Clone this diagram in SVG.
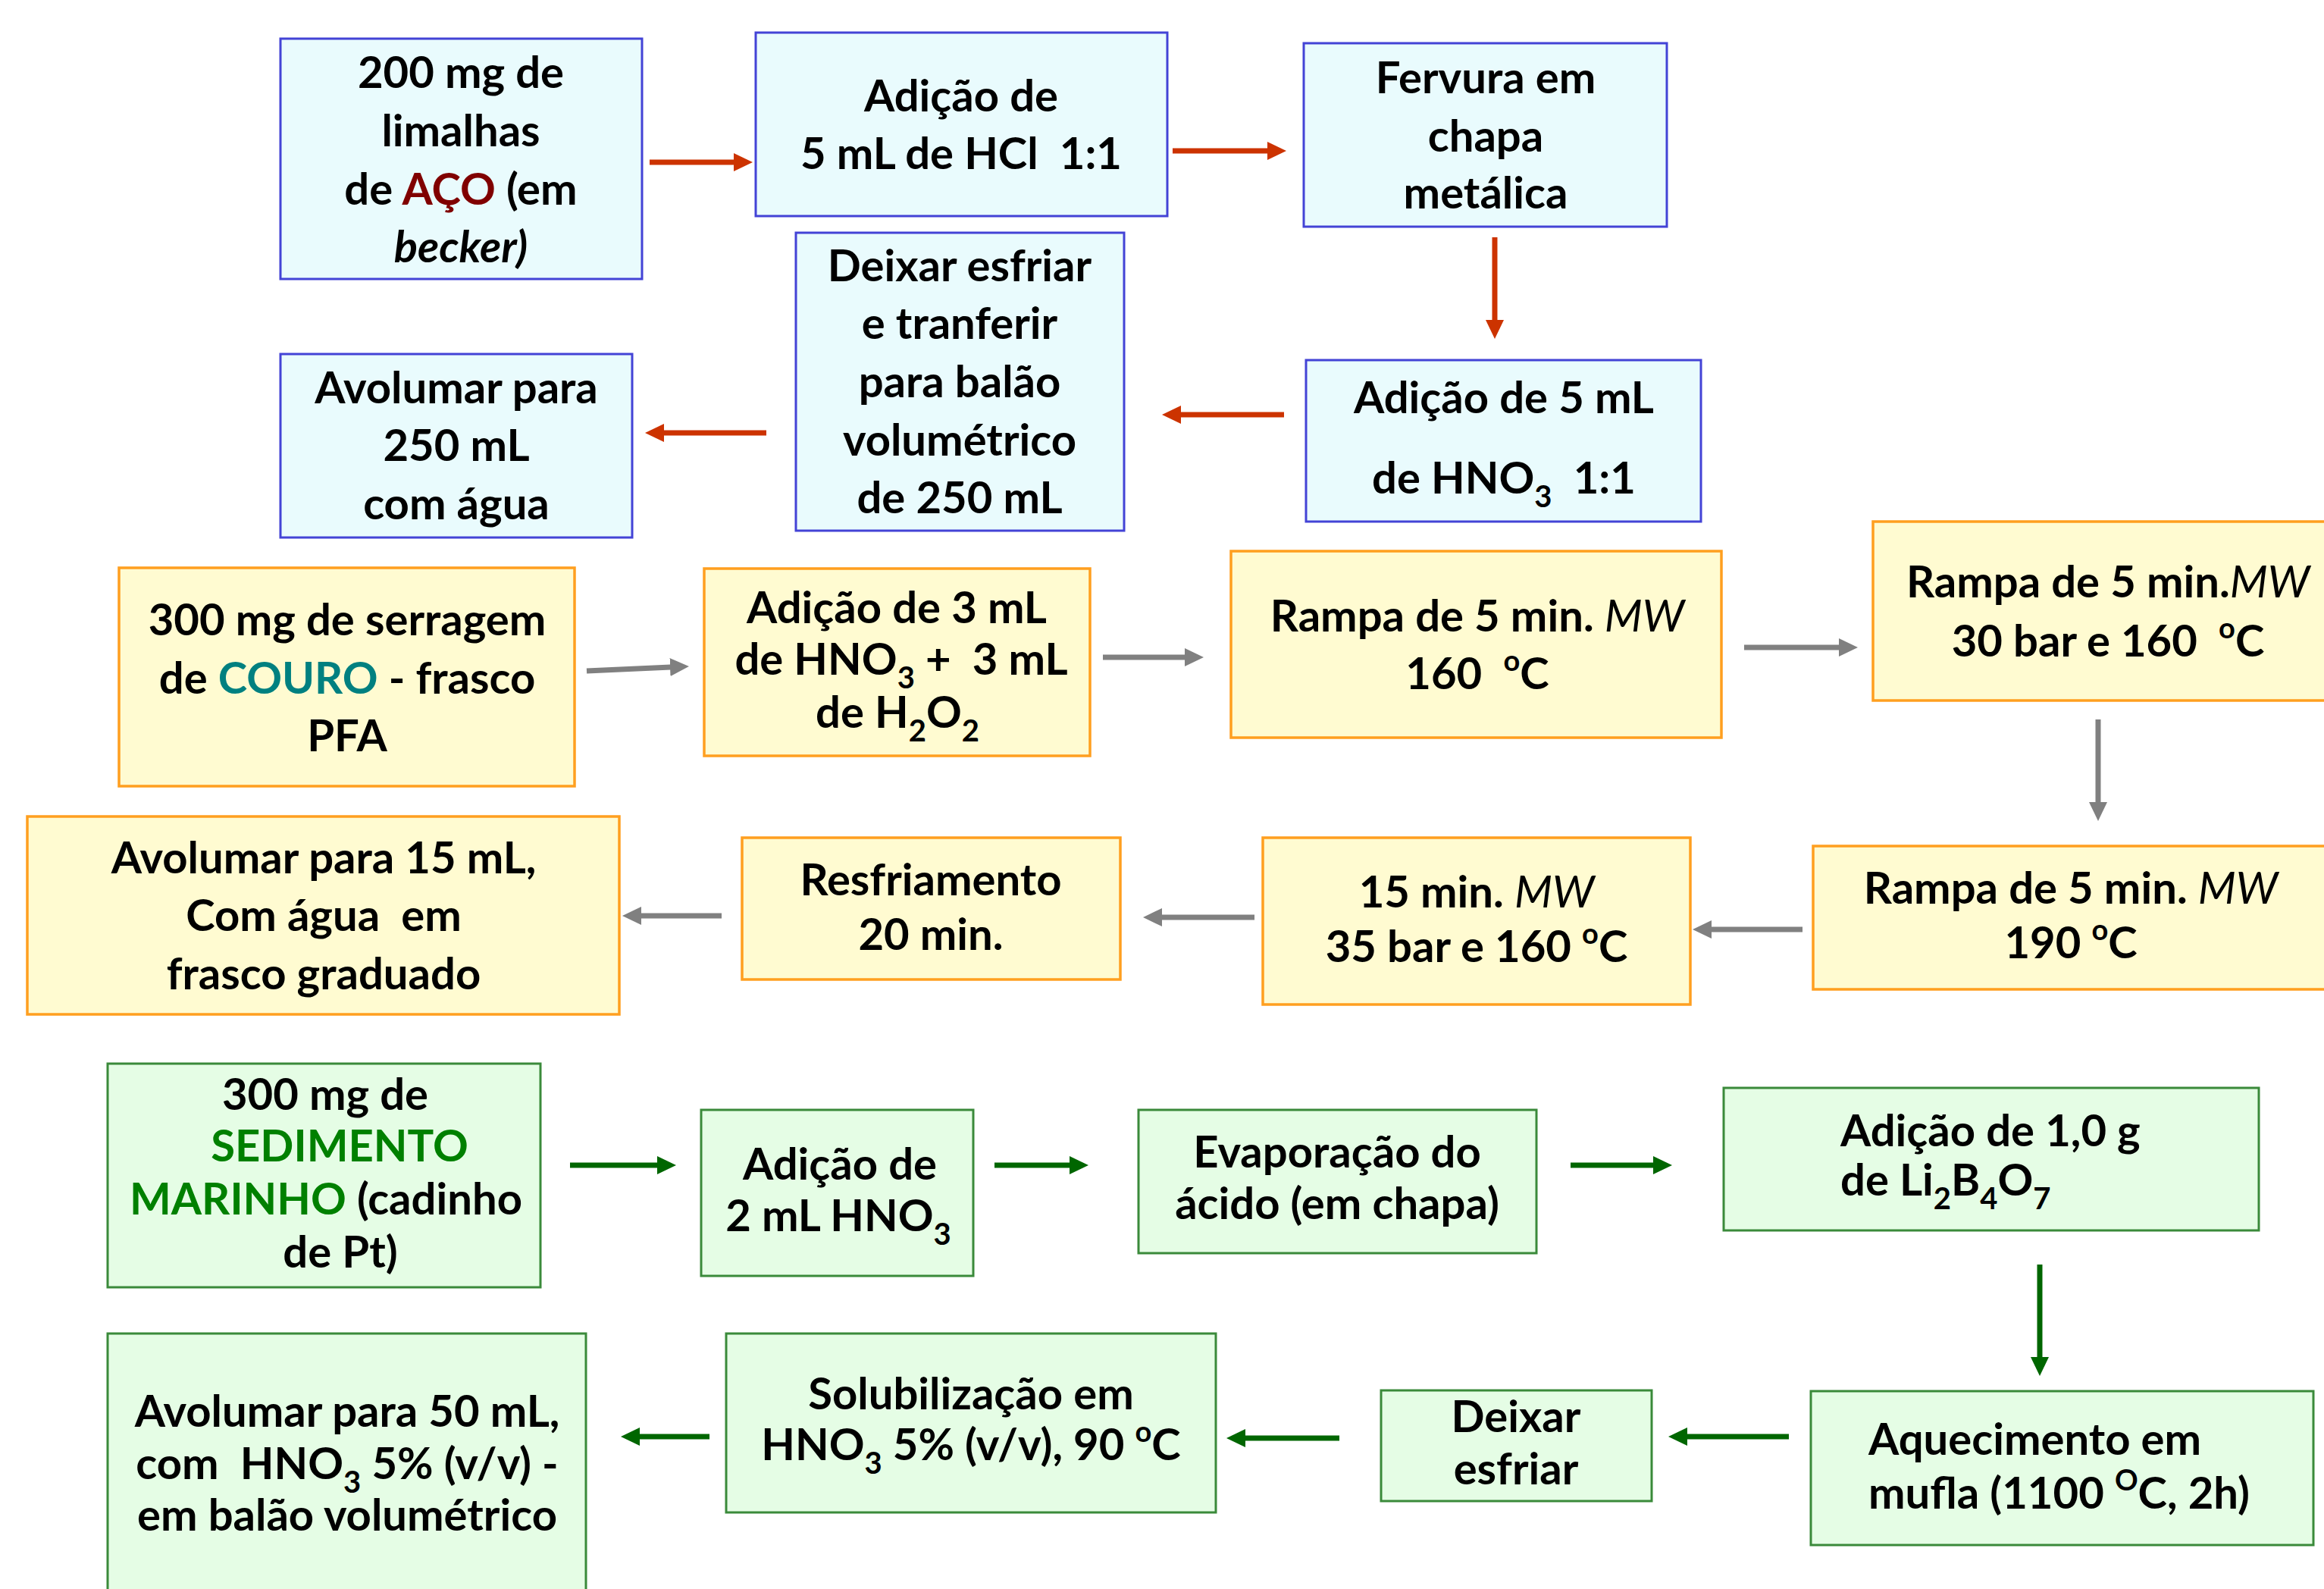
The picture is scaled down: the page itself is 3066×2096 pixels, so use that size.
<svg xmlns="http://www.w3.org/2000/svg" width="3066" height="2096" viewBox="0 0 3066 2096">
<style>
  .bx-b{fill:#E9FBFD;stroke:#4343D6;stroke-width:3}
  .bx-y{fill:#FFFBD1;stroke:#FF9F1F;stroke-width:3.5}
  .bx-g{fill:#E5FDE5;stroke:#3A8A3A;stroke-width:3}
  text{font-family:Lato,"Noto Sans","Liberation Sans",sans-serif;font-weight:700;font-size:58px;fill:#000;text-anchor:middle}
  text.l{text-anchor:start}
  .it{font-style:italic}
  .itn{font-style:italic;font-weight:400}
  .sub{font-size:40px}
  .sup{font-size:38px}
  .red{fill:#800000}
  .teal{fill:#008080}
  .grn{fill:#008000}
  .ar-r{stroke:#CC3300;stroke-width:7;fill:none}
  .ar-k{stroke:#808080;stroke-width:7;fill:none}
  .ar-g{stroke:#006600;stroke-width:7;fill:none}
</style>
<defs>
  <marker id="hr" markerUnits="userSpaceOnUse" markerWidth="26" markerHeight="26" refX="1" refY="13" orient="auto"><path d="M0,1 L25,13 L0,25 Z" fill="#CC3300"/></marker>
  <marker id="hk" markerUnits="userSpaceOnUse" markerWidth="26" markerHeight="26" refX="1" refY="13" orient="auto"><path d="M0,1 L25,13 L0,25 Z" fill="#808080"/></marker>
  <marker id="hg" markerUnits="userSpaceOnUse" markerWidth="26" markerHeight="26" refX="1" refY="13" orient="auto"><path d="M0,1 L25,13 L0,25 Z" fill="#006600"/></marker>
</defs>

<g id="connectors">
  <line class="ar-r" x1="857" y1="214" x2="969" y2="214" marker-end="url(#hr)"/>
  <line class="ar-r" x1="1547" y1="199" x2="1673" y2="199" marker-end="url(#hr)"/>
  <line class="ar-r" x1="1972" y1="313" x2="1972" y2="423" marker-end="url(#hr)"/>
  <line class="ar-r" x1="1694" y1="547" x2="1557" y2="547" marker-end="url(#hr)"/>
  <line class="ar-r" x1="1011" y1="571" x2="875" y2="571" marker-end="url(#hr)"/>

  <line class="ar-k" x1="774" y1="885" x2="885" y2="880" marker-end="url(#hk)"/>
  <line class="ar-k" x1="1455" y1="867" x2="1564" y2="867" marker-end="url(#hk)"/>
  <line class="ar-k" x1="2301" y1="854" x2="2427" y2="854" marker-end="url(#hk)"/>
  <line class="ar-k" x1="2768" y1="949" x2="2768" y2="1059" marker-end="url(#hk)"/>
  <line class="ar-k" x1="2378" y1="1226" x2="2257" y2="1226" marker-end="url(#hk)"/>
  <line class="ar-k" x1="1655" y1="1210" x2="1532" y2="1210" marker-end="url(#hk)"/>
  <line class="ar-k" x1="952" y1="1208" x2="845" y2="1208" marker-end="url(#hk)"/>

  <line class="ar-g" x1="752" y1="1537" x2="868" y2="1537" marker-end="url(#hg)"/>
  <line class="ar-g" x1="1312" y1="1537" x2="1412" y2="1537" marker-end="url(#hg)"/>
  <line class="ar-g" x1="2072" y1="1537" x2="2182" y2="1537" marker-end="url(#hg)"/>
  <line class="ar-g" x1="2691" y1="1668" x2="2691" y2="1791" marker-end="url(#hg)"/>
  <line class="ar-g" x1="2360" y1="1895" x2="2225" y2="1895" marker-end="url(#hg)"/>
  <line class="ar-g" x1="1767" y1="1897" x2="1642" y2="1897" marker-end="url(#hg)"/>
  <line class="ar-g" x1="936" y1="1895" x2="843" y2="1895" marker-end="url(#hg)"/>
</g>

<!-- Blue (steel) flow -->
<g id="b1">
  <rect class="bx-b" x="370" y="51" width="477" height="317"/>
  <text x="608" y="116">200 mg de</text>
  <text x="608" y="193">limalhas</text>
  <text x="608" y="270">de <tspan class="red">AÇO</tspan> (em</text>
  <text x="608" y="346" class="it">becker)</text>
</g>
<g id="b2">
  <rect class="bx-b" x="997" y="43" width="543" height="242"/>
  <text x="1268" y="147">Adição de</text>
  <text x="1268" y="223" xml:space="preserve">5 mL de HCl  1:1</text>
</g>
<g id="b3">
  <rect class="bx-b" x="1720" y="57" width="479" height="242"/>
  <text x="1960" y="123">Fervura em</text>
  <text x="1960" y="200">chapa</text>
  <text x="1960" y="275">metálica</text>
</g>
<g id="b4">
  <rect class="bx-b" x="1050" y="307" width="433" height="393"/>
  <text x="1266" y="371">Deixar esfriar</text>
  <text x="1266" y="447">e tranferir</text>
  <text x="1266" y="524">para balão</text>
  <text x="1266" y="601">volumétrico</text>
  <text x="1266" y="677">de 250 mL</text>
</g>
<g id="b5">
  <rect class="bx-b" x="1723" y="475" width="521" height="213"/>
  <text x="1984" y="545">Adição de 5 mL</text>
  <text x="1984" y="651" xml:space="preserve">de HNO<tspan class="sub" dy="18">3</tspan><tspan dy="-18">  1:1</tspan></text>
</g>
<g id="b6">
  <rect class="bx-b" x="370" y="467" width="464" height="242"/>
  <text x="602" y="532">Avolumar para</text>
  <text x="602" y="608">250 mL</text>
  <text x="602" y="685">com água</text>
</g>

<!-- Yellow (leather) flow -->
<g id="y1">
  <rect class="bx-y" x="157" y="749" width="601" height="288"/>
  <text x="458" y="838">300 mg de serragem</text>
  <text x="458" y="915">de <tspan class="teal">COURO</tspan> - frasco</text>
  <text x="458" y="991">PFA</text>
</g>
<g id="y2">
  <rect class="bx-y" x="929" y="750" width="509" height="247"/>
  <text x="1183" y="822">Adição de 3 mL</text>
  <text x="1189" y="890" xml:space="preserve">de HNO<tspan class="sub" dy="18">3</tspan><tspan dy="-18"> +  3 mL</tspan></text>
  <text x="1184" y="960">de H<tspan class="sub" dy="18">2</tspan><tspan dy="-18">O</tspan><tspan class="sub" dy="18">2</tspan></text>
</g>
<g id="y3">
  <rect class="bx-y" x="1624" y="727" width="647" height="246"/>
  <text x="1949" y="833">Rampa de 5 min. <tspan class="itn">MW</tspan></text>
  <text x="1949" y="909" xml:space="preserve">160  <tspan class="sup" dy="-24">o</tspan><tspan dy="24">C</tspan></text>
</g>
<g id="y4">
  <rect class="bx-y" x="2471" y="688" width="630" height="236"/>
  <text x="2781" y="788">Rampa de 5 min.<tspan class="itn">MW</tspan></text>
  <text x="2781" y="866" xml:space="preserve">30 bar e 160  <tspan class="sup" dy="-24">o</tspan><tspan dy="24">C</tspan></text>
</g>
<g id="y5">
  <rect class="bx-y" x="2392" y="1116" width="690" height="189"/>
  <text x="2732" y="1192">Rampa de 5 min. <tspan class="itn">MW</tspan></text>
  <text x="2732" y="1264">190 <tspan class="sup" dy="-24">o</tspan><tspan dy="24">C</tspan></text>
</g>
<g id="y6">
  <rect class="bx-y" x="1666" y="1105" width="564" height="220"/>
  <text x="1948" y="1197">15 min. <tspan class="itn">MW</tspan></text>
  <text x="1948" y="1269">35 bar e 160 <tspan class="sup" dy="-24">o</tspan><tspan dy="24">C</tspan></text>
</g>
<g id="y7">
  <rect class="bx-y" x="979" y="1105" width="499" height="187"/>
  <text x="1228" y="1181">Resfriamento</text>
  <text x="1228" y="1253">20 min.</text>
</g>
<g id="y8">
  <rect class="bx-y" x="36" y="1077" width="781" height="261"/>
  <text x="427" y="1152">Avolumar para 15 mL,</text>
  <text x="427" y="1228" xml:space="preserve">Com água  em</text>
  <text x="427" y="1305">frasco graduado</text>
</g>

<!-- Green (sediment) flow -->
<g id="n1">
  <rect class="bx-g" x="142" y="1403" width="571" height="295"/>
  <text x="429" y="1464">300 mg de</text>
  <text x="448" y="1532" class="grn">SEDIMENTO</text>
  <text x="430" y="1602"><tspan class="grn">MARINHO</tspan> (cadinho</text>
  <text x="449" y="1672">de Pt)</text>
</g>
<g id="n2">
  <rect class="bx-g" x="925" y="1464" width="359" height="219"/>
  <text x="1108" y="1556">Adição de</text>
  <text x="1106" y="1624">2 mL HNO<tspan class="sub" dy="18">3</tspan></text>
</g>
<g id="n3">
  <rect class="bx-g" x="1502" y="1464" width="525" height="189"/>
  <text x="1764" y="1540">Evaporação do</text>
  <text x="1764" y="1608">ácido (em chapa)</text>
</g>
<g id="n4">
  <rect class="bx-g" x="2274" y="1435" width="706" height="188"/>
  <text class="l" x="2428" y="1512">Adição de 1,0 g</text>
  <text class="l" x="2428" y="1577">de Li<tspan class="sub" dy="18">2</tspan><tspan dy="-18">B</tspan><tspan class="sub" dy="18">4</tspan><tspan dy="-18">O</tspan><tspan class="sub" dy="18">7</tspan></text>
</g>
<g id="n5">
  <rect class="bx-g" x="2389" y="1835" width="663" height="203"/>
  <text class="l" x="2465" y="1919">Aquecimento em</text>
  <text class="l" x="2465" y="1990">mufla (1100 <tspan class="sup" dy="-24">O</tspan><tspan dy="24">C, 2h)</tspan></text>
</g>
<g id="n6">
  <rect class="bx-g" x="1822" y="1834" width="357" height="146"/>
  <text x="2000" y="1889">Deixar</text>
  <text x="2000" y="1958">esfriar</text>
</g>
<g id="n7">
  <rect class="bx-g" x="958" y="1759" width="646" height="236"/>
  <text x="1281" y="1859">Solubilização em</text>
  <text x="1281" y="1926">HNO<tspan class="sub" dy="18">3</tspan><tspan dy="-18"> 5% (v/v), 90 </tspan><tspan class="sup" dy="-24">o</tspan><tspan dy="24">C</tspan></text>
</g>
<g id="n8">
  <rect class="bx-g" x="142" y="1759" width="631" height="360"/>
  <text x="458" y="1882">Avolumar para 50 mL,</text>
  <text x="458" y="1951" xml:space="preserve">com  HNO<tspan class="sub" dy="18">3</tspan><tspan dy="-18"> 5% (v/v) -</tspan></text>
  <text x="458" y="2019">em balão volumétrico</text>
</g>
</svg>
